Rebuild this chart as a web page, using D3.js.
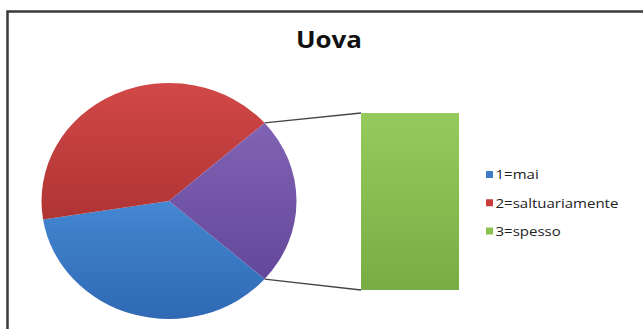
<!DOCTYPE html>
<html>
<head>
<meta charset="utf-8">
<script src="https://cdn.jsdelivr.net/npm/d3@7"></script>
<style>
html,body{margin:0;padding:0;background:#fff;}
svg{display:block;}
</style>
</head>
<body>
<svg id="chart" width="643" height="329"></svg>
<script>
// ---- data ----
const categories = ["1=mai", "2=saltuariamente", "3=spesso"];
const values = [36, 41, 23];            // percent share
const pieIndices = [0, 1];              // shown directly in the pie
const barIndices = [2];                 // moved to the secondary bar ("other" slice)
const title = "Uova";

const colorTop = ["#4487d2", "#d24848", "#95cb5c"];
const colorBot = ["#2f69b4", "#b03434", "#78ad45"];
const legendColors = ["#3d7cc9", "#c83c3c", "#8cc350"];
const otherTop = "#8163b4", otherBot = "#63479a";

const svg = d3.select("#chart");
const W = 643, H = 329;
const sx = 127.5 / 118;   // horizontal stretch of the original picture

// gradients
const defs = svg.append("defs");
function grad(id, c1, c2) {
  const g = defs.append("linearGradient").attr("id", id)
    .attr("x1", 0).attr("y1", 0).attr("x2", 0).attr("y2", 1);
  g.append("stop").attr("offset", "0%").attr("stop-color", c1);
  g.append("stop").attr("offset", "100%").attr("stop-color", c2);
}
categories.forEach((c, i) => grad("g" + i, colorTop[i], colorBot[i]));
grad("gOther", otherTop, otherBot);

// frame
svg.append("path")
  .attr("d", `M7.5,${H + 5} L7.5,11.5 L${W + 5},11.5`)
  .attr("fill", "none").attr("stroke", "#3a3a3a").attr("stroke-width", 2.5);

// title
svg.append("text")
  .attr("transform", `translate(329,48) scale(${sx},1)`)
  .attr("text-anchor", "middle")
  .attr("font-family", "Open Sans, sans-serif")
  .attr("font-weight", "bold").attr("font-size", 24)
  .attr("fill", "#111")
  .text(title);

// pie (elliptical, as in the reference)
const cx = 169, cy = 201, ry = 118;
const otherValue = d3.sum(barIndices, i => values[i]);
const total = d3.sum(values);
const pieData = pieIndices.map(i => ({ idx: i, v: values[i] }))
  .concat([{ idx: "other", v: otherValue }]);
const otherHalf = Math.PI * (otherValue / total);
const start = Math.PI / 2 + otherHalf;
const pie = d3.pie().sort(null).value(d => d.v)
  .startAngle(start).endAngle(start + 2 * Math.PI);
const arcs = pie(pieData);
const arc = d3.arc().innerRadius(0).outerRadius(ry);

const pg = svg.append("g").attr("transform", `translate(${cx},${cy}) scale(${sx},1)`);
pg.selectAll("path").data(arcs).join("path")
  .attr("d", arc)
  .attr("fill", d => d.data.idx === "other" ? "url(#gOther)" : `url(#g${d.data.idx})`);

// secondary bar
const otherArc = arcs.find(a => a.data.idx === "other");
const barX = d3.scaleBand().domain(["bar"]).range([361, 459]).padding(0);
const barY = d3.scaleLinear().domain([0, otherValue]).range([290, 113]);
let acc = 0;
const barData = barIndices.map(i => { const o = { idx: i, y0: acc, y1: acc + values[i] }; acc += values[i]; return o; });
svg.selectAll("rect.bar").data(barData).join("rect").attr("class", "bar")
  .attr("x", barX("bar")).attr("width", barX.bandwidth())
  .attr("y", d => barY(d.y1)).attr("height", d => barY(d.y0) - barY(d.y1))
  .attr("fill", d => `url(#g${d.idx})`);

// connector lines
function ptOn(a) { return [cx + sx * ry * Math.sin(a), cy - ry * Math.cos(a)]; }
const pTop = ptOn(otherArc.startAngle), pBot = ptOn(otherArc.endAngle);
const lines = [[pTop, [barX("bar"), barY(otherValue)]], [pBot, [barX("bar"), barY(0)]]];
svg.selectAll("line.conn").data(lines).join("line").attr("class", "conn")
  .attr("x1", d => d[0][0]).attr("y1", d => d[0][1])
  .attr("x2", d => d[1][0]).attr("y2", d => d[1][1])
  .attr("stroke", "#444").attr("stroke-width", 1.3);

// legend
const lg = svg.append("g");
const ly = d3.scalePoint().domain(categories).range([174.5, 231]);
const items = lg.selectAll("g").data(categories).join("g")
  .attr("transform", d => `translate(486,${ly(d)})`);
items.append("rect").attr("x", 0).attr("y", -3.5).attr("width", 7).attr("height", 7)
  .attr("fill", (d, i) => legendColors[i]);
items.append("text")
  .attr("transform", `translate(9.5,4.8) scale(${sx * 1.03},1)`)
  .attr("font-family", "Open Sans, sans-serif").attr("font-size", 13.5)
  .attr("fill", "#222")
  .text(d => d);
</script>
</body>
</html>
